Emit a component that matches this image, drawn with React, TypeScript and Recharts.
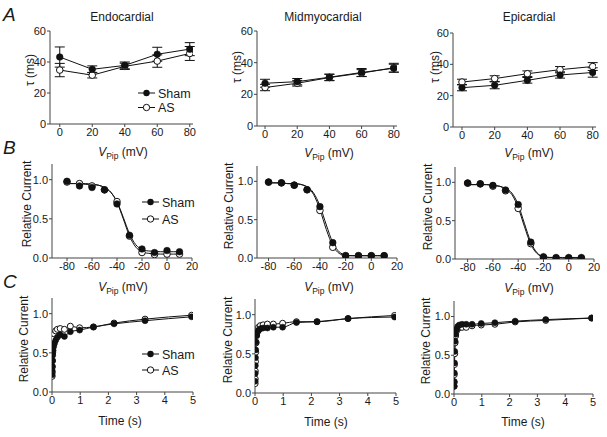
import React from "react";
import { ComposedChart, Line, XAxis, YAxis, ErrorBar } from "recharts";

const FONT = "'Liberation Sans', Arial, Helvetica, sans-serif";
const INK = "#111";

// ---- row A: time constant vs pipette potential ----
const vPip = [0, 20, 40, 60, 80];
const endoShamTau = [43.2, 35.3, 37.8, 45.0, 48.3];
const endoShamErr = [6.5, 2.2, 2.2, 4.5, 4.2];
const endoAsTau = [34.8, 31.5, 37.2, 40.6, 45.5];
const endoAsErr = [4.3, 1.8, 2.0, 4.0, 4.5];
const midShamTau = [27.0, 28.0, 30.8, 33.8, 36.5];
const midShamErr = [2.5, 2.0, 2.0, 2.5, 2.5];
const midAsTau = [24.3, 27.0, 30.6, 33.4, 36.8];
const midAsErr = [2.0, 1.8, 2.0, 2.2, 2.8];
const epiShamTau = [25.1, 26.6, 29.8, 33.2, 34.8];
const epiShamErr = [2.0, 2.2, 1.8, 2.0, 3.0];
const epiAsTau = [28.7, 30.9, 34.0, 36.6, 38.6];
const epiAsErr = [1.8, 1.8, 1.8, 2.0, 2.5];

// ---- row B: steady-state inactivation ----
const vTest = [-80, -70, -60, -50, -40, -30, -20, -10, 0, 10];
const endoShamInact = [0.98, 0.92, 0.9, 0.87, 0.69, 0.29, 0.115, 0.07, 0.095, 0.08];
const endoAsInact = [0.97, 0.95, 0.92, 0.87, 0.72, 0.28, 0.07, 0.045, 0.05, 0.05];
const midShamInact = [0.99, 0.98, 0.95, 0.89, 0.67, 0.2, 0.03, 0.03, 0.03, 0.03];
const midAsInact = [0.99, 0.98, 0.95, 0.89, 0.62, 0.14, 0.03, 0.03, 0.03, 0.03];
const epiShamInact = [0.99, 0.98, 0.96, 0.9, 0.71, 0.22, 0.03, 0.02, 0.02, 0.02];
const epiAsInact = [0.99, 0.98, 0.95, 0.89, 0.66, 0.2, 0.02, 0.01, 0.01, 0.01];

// fitted curves, every 5 mV
const vFit = [-80, -75, -70, -65, -60, -55, -50, -45, -40, -35, -30, -25, -20, -15, -10, -5, 0, 5, 10];
const endoShamFit = [0.95, 0.95, 0.95, 0.94, 0.94, 0.93, 0.9, 0.84, 0.72, 0.52, 0.31, 0.17, 0.11, 0.09, 0.085, 0.08, 0.08, 0.08, 0.08];
const endoAsFit = [0.95, 0.95, 0.95, 0.95, 0.94, 0.93, 0.9, 0.84, 0.71, 0.5, 0.28, 0.14, 0.08, 0.06, 0.055, 0.05, 0.05, 0.05, 0.05];
const midShamFit = [0.98, 0.98, 0.98, 0.97, 0.97, 0.96, 0.93, 0.85, 0.68, 0.43, 0.2, 0.08, 0.04, 0.03, 0.03, 0.03, 0.03, 0.03, 0.03];
const midAsFit = [0.98, 0.98, 0.98, 0.97, 0.97, 0.96, 0.92, 0.83, 0.63, 0.37, 0.16, 0.06, 0.03, 0.03, 0.03, 0.03, 0.03, 0.03, 0.03];
const epiShamFit = [0.97, 0.97, 0.97, 0.97, 0.96, 0.95, 0.92, 0.86, 0.71, 0.46, 0.22, 0.08, 0.03, 0.02, 0.02, 0.02, 0.02, 0.02, 0.02];
const epiAsFit = [0.97, 0.97, 0.97, 0.97, 0.96, 0.95, 0.91, 0.84, 0.67, 0.42, 0.19, 0.07, 0.03, 0.02, 0.02, 0.01, 0.01, 0.01, 0.01];

// ---- row C: recovery from inactivation ----
const tRec = [0.005, 0.008, 0.011, 0.017, 0.026, 0.039, 0.058, 0.087, 0.13, 0.19, 0.29, 0.44, 0.65, 0.98, 1.47, 2.2, 3.3, 4.95];
const endoShamRec = [0.22, 0.27, 0.33, 0.4, 0.47, 0.53, 0.58, 0.62, 0.66, 0.7, 0.73, 0.71, 0.77, 0.79, 0.83, 0.87, 0.91, 0.96];
const endoAsRec = [0.2, 0.25, 0.32, 0.4, 0.5, 0.6, 0.68, 0.74, 0.78, 0.8, 0.81, 0.8, 0.84, 0.82, 0.83, 0.88, 0.93, 0.98];
const midShamRec = [0.15, 0.25, 0.35, 0.45, 0.55, 0.65, 0.73, 0.78, 0.8, 0.82, 0.83, 0.83, 0.84, 0.84, 0.9, 0.91, 0.95, 0.97];
const midAsRec = [0.12, 0.18, 0.28, 0.4, 0.52, 0.64, 0.74, 0.8, 0.84, 0.86, 0.87, 0.88, 0.88, 0.89, 0.91, 0.91, 0.95, 0.99];
const epiShamRec = [0.1, 0.16, 0.27, 0.4, 0.55, 0.68, 0.77, 0.83, 0.87, 0.89, 0.9, 0.9, 0.9, 0.91, 0.92, 0.94, 0.96, 0.98];
const epiAsRec = [0.1, 0.15, 0.25, 0.38, 0.52, 0.66, 0.75, 0.81, 0.84, 0.86, 0.86, 0.86, 0.88, 0.89, 0.9, 0.93, 0.95, 0.98];

const zipXY = (xs: number[], ys: number[]) => xs.map((x, i) => ({ x, y: ys[i] }));

const tauTable = (sham: number[], shamErr: number[], as: number[], asErr: number[]) =>
  vPip.map((x, i) => ({ x, sham: sham[i], shamErr: shamErr[i], as: as[i], asErr: asErr[i] }));

const filledDot = (r: number) => (p: any) =>
  p.cx == null ? <g key={`f${p.index}`} /> : <circle key={`f${p.index}`} cx={p.cx} cy={p.cy} r={r} fill={INK} stroke={INK} strokeWidth={0.6} />;
const openDot = (r: number) => (p: any) =>
  p.cx == null ? <g key={`o${p.index}`} /> : <circle key={`o${p.index}`} cx={p.cx} cy={p.cy} r={r} fill="#fff" stroke={INK} strokeWidth={1} />;

const tick = { fill: "#1a1a1a", fontSize: 11, fontFamily: FONT };

type Box = { x: number; y: number; w: number; h: number };

function Panel({ box, xDomain, xTicks, yDomain, yTicks, yFmt, data, children }: {
  box: Box; xDomain: number[]; xTicks: number[]; yDomain: number[]; yTicks: number[];
  yFmt?: (v: number) => string; data?: any[]; children: React.ReactNode;
}) {
  const YW = 30, XH = 22, PAD = 6;
  return (
    <div style={{ position: "absolute", left: box.x - YW, top: box.y - PAD }}>
      <ComposedChart width={YW + box.w + PAD} height={PAD + box.h + XH} data={data}
        margin={{ top: PAD, right: PAD, bottom: 0, left: 0 }}>
        <XAxis type="number" dataKey="x" domain={xDomain} ticks={xTicks} interval={0} allowDataOverflow
          height={XH} tick={tick} tickSize={3} tickMargin={1} stroke="#444" />
        <YAxis type="number" domain={yDomain} ticks={yTicks} interval={0} allowDataOverflow
          width={YW} tick={tick} tickSize={3} tickMargin={1} stroke="#444" tickFormatter={yFmt} />
        {children}
      </ComposedChart>
    </div>
  );
}

const fmt1 = (v: number) => v.toFixed(1);

function TauPanel({ box, xDomain, table }: { box: Box; xDomain: number[]; table: any[] }) {
  return (
    <Panel box={box} xDomain={xDomain} xTicks={vPip} yDomain={[0, 60]} yTicks={[0, 20, 40, 60]} data={table}>
      <Line dataKey="as" stroke={INK} strokeWidth={1} dot={openDot(3.3)} isAnimationActive={false}>
        <ErrorBar dataKey="asErr" width={5} stroke={INK} strokeWidth={1} direction="y" />
      </Line>
      <Line dataKey="sham" stroke={INK} strokeWidth={1} dot={filledDot(3.3)} isAnimationActive={false}>
        <ErrorBar dataKey="shamErr" width={5} stroke={INK} strokeWidth={1} direction="y" />
      </Line>
    </Panel>
  );
}

function InactPanel({ box, xDomain, sham, as, shamFit, asFit }: {
  box: Box; xDomain: number[]; sham: number[]; as: number[]; shamFit: number[]; asFit: number[];
}) {
  return (
    <Panel box={box} xDomain={xDomain} xTicks={[-80, -60, -40, -20, 0, 20]} yDomain={[0, 1.2]} yTicks={[0, 0.5, 1]} yFmt={fmt1}>
      <Line data={zipXY(vFit, asFit)} dataKey="y" type="monotone" stroke={INK} strokeWidth={1} dot={false} isAnimationActive={false} />
      <Line data={zipXY(vFit, shamFit)} dataKey="y" type="monotone" stroke={INK} strokeWidth={1} dot={false} isAnimationActive={false} />
      <Line data={zipXY(vTest, as)} dataKey="y" stroke="none" dot={openDot(3.3)} isAnimationActive={false} />
      <Line data={zipXY(vTest, sham)} dataKey="y" stroke="none" dot={filledDot(3.3)} isAnimationActive={false} />
    </Panel>
  );
}

function RecPanel({ box, sham, as }: { box: Box; sham: number[]; as: number[] }) {
  return (
    <Panel box={box} xDomain={[0, 5]} xTicks={[0, 1, 2, 3, 4, 5]} yDomain={[0, 1.2]} yTicks={[0, 0.5, 1]} yFmt={fmt1}>
      <Line data={zipXY(tRec, as)} dataKey="y" type="monotone" stroke={INK} strokeWidth={1} dot={openDot(3)} isAnimationActive={false} />
      <Line data={zipXY(tRec, sham)} dataKey="y" type="monotone" stroke={INK} strokeWidth={1} dot={filledDot(3)} isAnimationActive={false} />
    </Panel>
  );
}

const VLabel = ({ x, y }: { x: number; y: number }) => (
  <text x={x} y={y} textAnchor="middle" fontSize={12}>
    <tspan fontStyle="italic">V</tspan>
    <tspan fontSize={8.5} dy={3}>Pip</tspan>
    <tspan dy={-3}> (mV)</tspan>
  </text>
);

const YLabel = ({ x, y, text }: { x: number; y: number; text: string }) => (
  <text x={x} y={y} textAnchor="middle" fontSize={12} transform={`rotate(-90 ${x} ${y})`}>{text}</text>
);

const LegendItems = ({ x, y, gap }: { x: number; y: number; gap: number }) => (
  <g>
    <line x1={x} x2={x + 17} y1={y} y2={y} stroke={INK} strokeWidth={1} />
    <circle cx={x + 8.5} cy={y} r={3.2} fill={INK} />
    <text x={x + 20} y={y + 4.5} fontSize={12.5}>Sham</text>
    <line x1={x} x2={x + 17} y1={y + gap} y2={y + gap} stroke={INK} strokeWidth={1} />
    <circle cx={x + 8.5} cy={y + gap} r={3.2} fill="#fff" stroke={INK} strokeWidth={1} />
    <text x={x + 20} y={y + gap + 4.5} fontSize={12.5}>AS</text>
  </g>
);

export default function App() {
  return (
    <div style={{ position: "absolute", left: 0, top: 0, width: 607, height: 437, background: "#fff", fontFamily: FONT }}>
      <TauPanel box={{ x: 50, y: 31, w: 143, h: 93 }} xDomain={[-6, 82]}
        table={tauTable(endoShamTau, endoShamErr, endoAsTau, endoAsErr)} />
      <TauPanel box={{ x: 257, y: 31, w: 140, h: 95 }} xDomain={[-5, 82]}
        table={tauTable(midShamTau, midShamErr, midAsTau, midAsErr)} />
      <TauPanel box={{ x: 453, y: 33, w: 143, h: 94 }} xDomain={[-5.5, 82]}
        table={tauTable(epiShamTau, epiShamErr, epiAsTau, epiAsErr)} />

      <InactPanel box={{ x: 52, y: 164, w: 140, h: 94 }} xDomain={[-92, 20]}
        sham={endoShamInact} as={endoAsInact} shamFit={endoShamFit} asFit={endoAsFit} />
      <InactPanel box={{ x: 257, y: 166, w: 140, h: 92 }} xDomain={[-89, 20]}
        sham={midShamInact} as={midAsInact} shamFit={midShamFit} asFit={midAsFit} />
      <InactPanel box={{ x: 455, y: 167, w: 139, h: 92 }} xDomain={[-90, 20]}
        sham={epiShamInact} as={epiAsInact} shamFit={epiShamFit} asFit={epiAsFit} />

      <RecPanel box={{ x: 52, y: 298, w: 141, h: 94 }} sham={endoShamRec} as={endoAsRec} />
      <RecPanel box={{ x: 255, y: 299, w: 141, h: 94 }} sham={midShamRec} as={midAsRec} />
      <RecPanel box={{ x: 454, y: 301, w: 139, h: 93 }} sham={epiShamRec} as={epiAsRec} />

      <svg width={607} height={437} style={{ position: "absolute", left: 0, top: 0, pointerEvents: "none" }}
        fontFamily={FONT} fill="#1a1a1a">
        <text x={3} y={21} fontSize={19} fontStyle="italic">A</text>
        <text x={3} y={154} fontSize={19} fontStyle="italic">B</text>
        <text x={3} y={288} fontSize={19} fontStyle="italic">C</text>

        <text x={122} y={21} textAnchor="middle" fontSize={12}>Endocardial</text>
        <text x={323} y={21} textAnchor="middle" fontSize={12}>Midmyocardial</text>
        <text x={529} y={21} textAnchor="middle" fontSize={12}>Epicardial</text>

        <YLabel x={34} y={70} text="τ (ms)" />
        <YLabel x={241} y={67} text="τ (ms)" />
        <YLabel x={439} y={67} text="τ (ms)" />
        <YLabel x={31} y={204} text="Relative Current" />
        <YLabel x={233} y={206} text="Relative Current" />
        <YLabel x={432} y={207} text="Relative Current" />
        <YLabel x={28} y={339} text="Relative Current" />
        <YLabel x={232} y={340} text="Relative Current" />
        <YLabel x={430} y={341} text="Relative Current" />

        <VLabel x={123} y={156} />
        <VLabel x={329} y={157} />
        <VLabel x={529} y={157} />
        <VLabel x={123} y={291} />
        <VLabel x={329} y={291} />
        <VLabel x={529} y={292} />

        <text x={120} y={425} textAnchor="middle" fontSize={12}>Time (s)</text>
        <text x={326} y={426} textAnchor="middle" fontSize={12}>Time (s)</text>
        <text x={523} y={426} textAnchor="middle" fontSize={12}>Time (s)</text>

        <LegendItems x={138} y={93} gap={14.5} />
        <LegendItems x={142} y={202} gap={17} />
        <LegendItems x={142} y={354} gap={16} />
      </svg>
    </div>
  );
}
